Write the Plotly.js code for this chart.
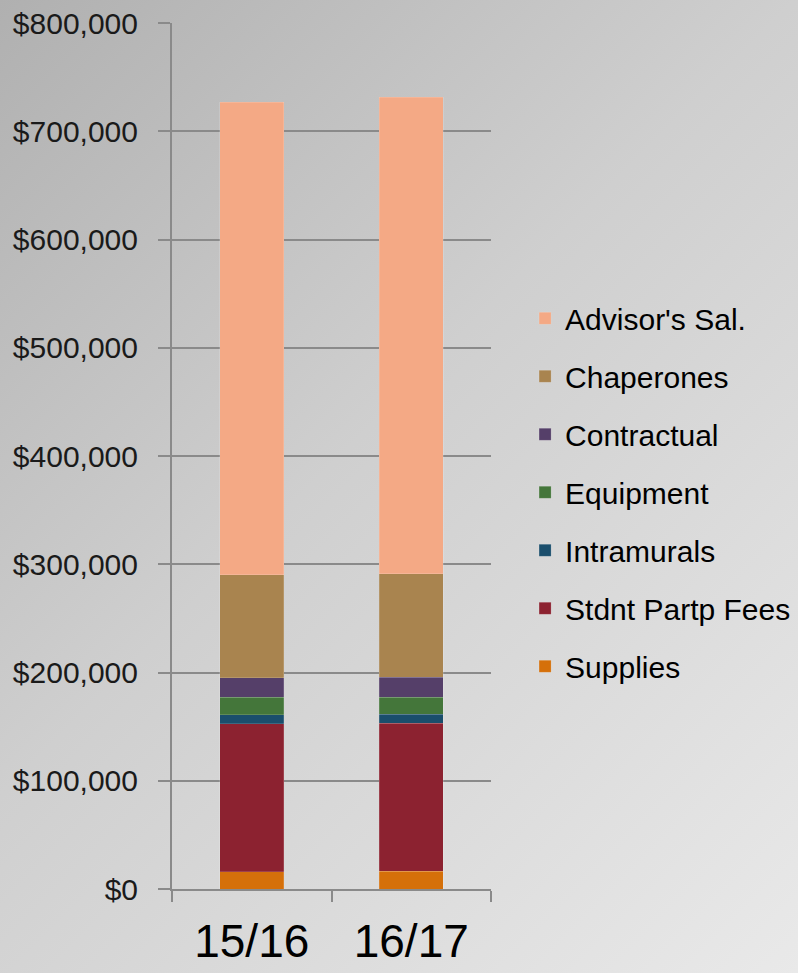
<!DOCTYPE html>
<html>
<head>
<meta charset="utf-8">
<script src="https://cdn.plot.ly/plotly-3.0.1.min.js"></script>
<style>
  html, body { margin:0; padding:0; width:798px; height:973px; overflow:hidden;
    background: linear-gradient(135deg, #b0b0b0 0%, #cfcfcf 45%, #e9e9e9 100%); }
  #chart { width:798px; height:973px; }
</style>
</head>
<body>
<div id="chart"></div>
<script>
const categories = ['15/16', '16/17'];
const seriesNames = ['Supplies', 'Stdnt Partp Fees', 'Intramurals', 'Equipment', 'Contractual', 'Chaperones', "Advisor's Sal."];
const supplies    = [16000, 16500];
const fees        = [136500, 136500];
const intramurals = [8500, 8500];
const equipment   = [16000, 15800];
const contractual = [18000, 18300];
const chaperones  = [95200, 95500];
const advisor     = [436700, 440500];
const colors = ['#D5700A', '#8C2230', '#1A4E6C', '#44763A', '#553F69', '#A9844F', '#F4A985'];
const yTickVals = [0, 100000, 200000, 300000, 400000, 500000, 600000, 700000, 800000];
const yTickText = ['$0', '$100,000', '$200,000', '$300,000', '$400,000', '$500,000', '$600,000', '$700,000', '$800,000'];

const values = [supplies, fees, intramurals, equipment, contractual, chaperones, advisor];
const traces = values.map((v, i) => ({
  type: 'bar', x: categories, y: v, name: seriesNames[i],
  legendgroup: 'g' + i, legendrank: 1000 - i,
  marker: { color: colors[i], line: { color: 'rgba(255,255,255,0.25)', width: 0.6 } },
  hoverinfo: 'none'
}));

const font = "'Liberation Sans', Arial, sans-serif";
const layout = {
  width: 798, height: 973,
  paper_bgcolor: 'rgba(0,0,0,0)', plot_bgcolor: 'rgba(0,0,0,0)',
  margin: { l: 172, r: 307, t: 23, b: 84, pad: 0 },
  barmode: 'stack', bargap: 0.6,
  showlegend: true,
  legend: {
    traceorder: 'grouped', xref: 'container', yref: 'container',
    x: 0.658, xanchor: 'left', y: 0.494, yanchor: 'middle',
    font: { family: font, size: 30, color: '#000' },
    bgcolor: 'rgba(0,0,0,0)', itemwidth: 30, tracegroupgap: 16
  },
  xaxis: {
    type: 'category', tickson: 'boundaries', ticks: 'outside', ticklen: 11,
    tickcolor: '#8a8a8a', tickwidth: 2, showline: true, linecolor: '#8a8a8a', linewidth: 2,
    tickfont: { family: font, size: 46, color: '#000' },
    ticklabelstandoff: 11, showgrid: false, fixedrange: true
  },
  yaxis: {
    range: [0, 800000], tickvals: yTickVals, ticktext: yTickText,
    ticks: 'outside', ticklen: 12, tickcolor: '#8a8a8a', tickwidth: 2,
    showline: true, linecolor: '#8a8a8a', linewidth: 2,
    showgrid: true, gridcolor: '#8a8a8a', gridwidth: 2, zeroline: false,
    tickfont: { family: font, size: 30, color: '#1a1a1a' },
    ticklabelstandoff: 14, fixedrange: true
  }
};
Plotly.newPlot('chart', traces, layout, { displayModeBar: false, staticPlot: true });
</script>
</body>
</html>
